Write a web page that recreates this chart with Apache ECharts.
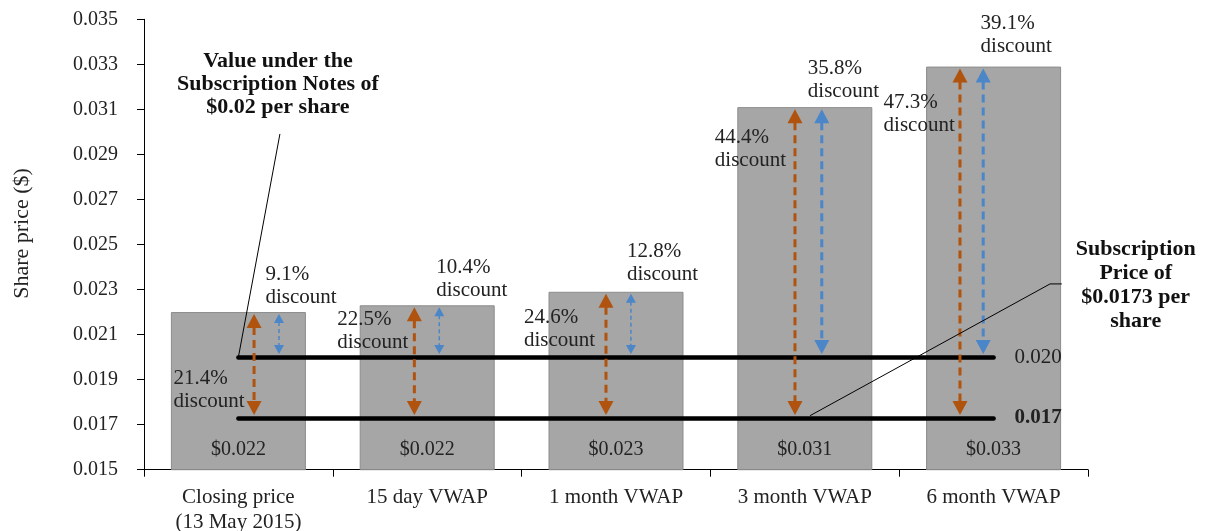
<!DOCTYPE html>
<html>
<head>
<meta charset="utf-8">
<title>Share price vs subscription price</title>
<script src="https://cdn.jsdelivr.net/npm/echarts@6/dist/echarts.min.js"></script>
<style>
  html, body { margin: 0; padding: 0; background: #fff; }
  #chart { width: 1210px; height: 531px; }
</style>
</head>
<body>
<div id="chart"></div>
<script>
// data
const categories = ["Closing price\n(13 May 2015)", "15 day VWAP", "1 month VWAP", "3 month VWAP", "6 month VWAP"];
const sharePrice = [0.0220, 0.0223, 0.0229, 0.0311, 0.0329];
const notePrice = 0.020;          // value under the Subscription Notes
const subscriptionPrice = 0.0173; // subscription price
const subDiscount = ["21.4%", "22.5%", "24.6%", "44.4%", "47.3%"];
const noteDiscount = ["9.1%", "10.4%", "12.8%", "35.8%", "39.1%"];

// layout: arrow shift inside the band (fraction of band width), label shift (px)
const subArrowShift = [0.083, -0.068, -0.053, -0.052, -0.178];
const noteArrowShift = [0.215, 0.064, 0.079, 0.090, -0.055];
const noteArrowHeavy = [false, false, false, true, true];
const subLabelShift = [[-65, 66], [-90, 14], [-92, 26], [-90, 30], [-110, 36]];
const noteLabelShift = [[27, -38], [9, -38], [11, -40], [3, -39], [-13, -43]];

// leader lines: [category, shift in band, value]
const leaderLines = [
  { pts: [[0, 0, notePrice], [0, 0.22, 0.02991]],
    text: "Value under the\nSubscription Notes of\n$0.02 per share", dx: -2, dy: -15, va: "bottom", lh: 23 },
  { pts: [[3, 0.028, 0.0174], [4, 0.299, 0.02325], [4, 0.361, 0.02325]],
    text: "Subscription\nPrice of\n$0.0173 per\nshare", dx: 74, dy: -47, va: "top", lh: 24 }
];

const FONT = '"Liberation Serif", "Times New Roman", serif';
const TXT = "#222";
const BROWN = "#B0530F";
const BLUE = "#4A86C8";

function arrowSeries(fromValue, color, shifts, heavy, labels, labelShift) {
  return {
    type: "custom",
    z: 5,
    silent: true,
    encode: { x: 0, y: 2 },
    data: sharePrice.map((v, i) => [i, fromValue, v]),
    renderItem(params, api) {
      const i = api.value(0);
      const top = api.coord([i, api.value(2)]);
      const bottom = api.coord([i, api.value(1)]);
      const band = api.size([1, 0])[0];
      const x = top[0] + shifts[i] * band;
      const big = heavy[i];
      const w = big ? 15 : 10;
      const h = big ? 14 : 9;
      const y1 = top[1] + 2;
      const y2 = bottom[1] - 3;
      return {
        type: "group",
        children: [
          {
            type: "line",
            shape: { x1: x, y1: y1 + h - 1, x2: x, y2: y2 - h + 1 },
            style: { stroke: color, lineWidth: big ? 3 : 1.5, lineDash: big ? [8, 5] : [4, 3] }
          },
          {
            type: "polygon",
            shape: { points: [[x, y1], [x - w / 2, y1 + h], [x + w / 2, y1 + h]] },
            style: { fill: color }
          },
          {
            type: "polygon",
            shape: { points: [[x, y2], [x - w / 2, y2 - h], [x + w / 2, y2 - h]] },
            style: { fill: color }
          },
          {
            type: "text",
            z2: -1,
            x: top[0] + labelShift[i][0],
            y: top[1] + labelShift[i][1] - 11.5,
            style: {
              text: labels[i] + "\ndiscount",
              fill: TXT, fontSize: 21, fontFamily: FONT,
              lineHeight: 23, align: "left", verticalAlign: "top"
            }
          }
        ]
      };
    }
  };
}

const chart = echarts.init(document.getElementById("chart"));

const option = {
  animation: false,
  grid: { left: 144, right: 122, top: 19.3, bottom: 61.3, containLabel: false, outerBoundsMode: "none" },
  xAxis: {
    type: "category",
    data: categories,
    axisLine: { lineStyle: { color: "#000", width: 1 } },
    axisTick: { show: true, length: 7, lineStyle: { color: "#000" } },
    axisLabel: { interval: 0, margin: 15, color: TXT, fontSize: 21, fontFamily: FONT, lineHeight: 25 }
  },
  yAxis: {
    type: "value",
    min: 0.015,
    max: 0.035,
    interval: 0.002,
    name: "Share price ($)",
    nameLocation: "middle",
    nameGap: 111,
    nameTextStyle: { color: TXT, fontSize: 22, fontFamily: FONT, padding: [0, 0, 0, 22] },
    axisLine: { show: true, lineStyle: { color: "#000", width: 1 } },
    axisTick: { show: true, length: 7, lineStyle: { color: "#000" } },
    axisLabel: { margin: 26, color: TXT, fontSize: 20, fontFamily: FONT, formatter: v => v.toFixed(3) },
    splitLine: { show: false }
  },
  series: [
    {
      type: "bar",
      data: sharePrice,
      barWidth: 135,
      itemStyle: { color: "#A6A6A6", borderColor: "#8C8C8C", borderWidth: 1 },
      label: {
        show: true,
        position: "insideBottom",
        distance: 10,
        color: TXT,
        fontSize: 20,
        fontFamily: FONT,
        formatter: p => "$" + p.value.toFixed(3)
      },
      markLine: {
        silent: true,
        symbol: "none",
        lineStyle: { color: "#000", width: 4.5, type: "solid", cap: "round" },
        label: { position: "end", distance: 21, color: TXT, fontSize: 21, fontFamily: FONT },
        data: [
          [{ coord: [0, notePrice], label: { formatter: notePrice.toFixed(3) } }, { coord: [4, notePrice] }],
          [{ coord: [0, subscriptionPrice], label: { formatter: subscriptionPrice.toFixed(3), fontWeight: "bold" } },
           { coord: [4, subscriptionPrice] }]
        ]
      }
    },
    arrowSeries(subscriptionPrice, BROWN, subArrowShift, [true, true, true, true, true], subDiscount, subLabelShift),
    arrowSeries(notePrice, BLUE, noteArrowShift, noteArrowHeavy, noteDiscount, noteLabelShift),
    {
      type: "custom",
      z: 6,
      silent: true,
      encode: { x: 0, y: 1 },
      data: leaderLines.map(l => [l.pts[0][0], l.pts[0][2]]),
      renderItem(params, api) {
        const l = leaderLines[params.dataIndex];
        const band = api.size([1, 0])[0];
        const pts = l.pts.map(p => {
          const c = api.coord([p[0], p[2]]);
          return [c[0] + p[1] * band, c[1]];
        });
        const end = pts[pts.length - 1];
        return {
          type: "group",
          children: [
            { type: "polyline", shape: { points: pts }, style: { stroke: "#000", lineWidth: 1, fill: null } },
            {
              type: "text",
              x: end[0] + l.dx,
              y: end[1] + l.dy,
              style: {
                text: l.text, fill: "#111", fontSize: 22, fontWeight: "bold", fontFamily: FONT,
                lineHeight: l.lh, align: "center", verticalAlign: l.va
              }
            }
          ]
        };
      }
    }
  ]
};

chart.setOption(option);
window.addEventListener("resize", () => {
  chart.resize();
});
</script>
</body>
</html>
